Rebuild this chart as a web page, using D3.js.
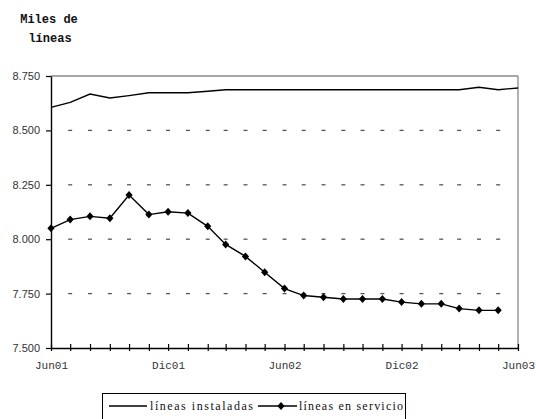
<!DOCTYPE html>
<html>
  <head>
    <meta charset="utf-8">
    <title>Líneas instaladas y en servicio</title>
    <script src="https://d3js.org/d3.v7.min.js"></script>
    <style>
      body { margin: 0; background: #fff; }
    </style>
  </head>
  <body>
    <script>
      // Data (miles de líneas), monthly from Jun01
      var startMonth = new Date(2001, 5, 1);
      var installed = [8606, 8629, 8667, 8649, 8660, 8673, 8673, 8673, 8680,
                       8687, 8687, 8687, 8687, 8687, 8687, 8687, 8687, 8687,
                       8687, 8687, 8687, 8687, 8698, 8687, 8695];
      var inService = [8050, 8090, 8105, 8096, 8203, 8113, 8126, 8120, 8059,
                       7976, 7921, 7848, 7773, 7741, 7733, 7725, 7725, 7725,
                       7711, 7703, 7703, 7681, 7673, 7673];
      var xTickLabels = ["Jun01", "Dic01", "Jun02", "Dic02", "Jun03"];
      var yTicks = [7500, 7750, 8000, 8250, 8500, 8750];
      var gridValues = [7750, 8000, 8250, 8500];
      var seriesNames = ["líneas instaladas", "líneas en servicio"];

      var margin = {top: 76, right: 18, bottom: 71, left: 51};
      var width = 536 - margin.left - margin.right;
      var height = 419 - margin.top - margin.bottom;

      var monthOf = function(i) { return d3.timeMonth.offset(startMonth, i); };
      var endMonth = monthOf(24);

      var svgRoot = d3.select("body")
                  .append("svg")
                  .attr("width", 536)
                  .attr("height", 419);
      var svg = svgRoot.append("g")
                  .attr("transform", "translate(" + margin.left + "," + margin.top + ")");

      var x = d3.scaleTime().domain([startMonth, endMonth]).range([0, width]);
      var y = d3.scaleLinear().domain([7500, 8750]).range([height, 0]);

      var loc = d3.formatLocale({decimal: ",", thousands: ".", grouping: [3], currency: ["", ""]});
      var fmt = loc.format(",d");

      // dashed gridlines: short dashes at each month
      var allMonths = d3.range(1, 24).map(monthOf);
      gridValues.forEach(function(v) {
        svg.selectAll(null)
           .data(allMonths)
           .enter()
           .append("line")
           .attr("x1", function(d) { return x(d) - 2; })
           .attr("x2", function(d) { return x(d) + 2; })
           .attr("y1", y(v))
           .attr("y2", y(v))
           .attr("stroke", "#555")
           .attr("stroke-width", 1.3);
      });

      // top and right frame
      svg.append("line")
         .attr("x1", 0).attr("x2", width)
         .attr("y1", y(8750)).attr("y2", y(8750))
         .attr("stroke", "#888").attr("stroke-width", 1.3);
      svg.append("line")
         .attr("x1", width).attr("x2", width)
         .attr("y1", y(8750)).attr("y2", height)
         .attr("stroke", "#888").attr("stroke-width", 1.3);

      // x axis
      var xAxis = svg.append("g")
         .attr("transform", "translate(0," + height + ")")
         .call(d3.axisBottom(x)
                 .tickValues(d3.range(0, 25).map(monthOf))
                 .tickSizeOuter(0)
                 .tickFormat(function(d, i) { return i % 6 === 0 ? xTickLabels[i / 6] : ""; }));
      xAxis.select(".domain").attr("stroke", "#000").attr("stroke-width", 1.4);
      xAxis.selectAll(".tick line").attr("y1", -4).attr("y2", 3).attr("stroke-width", 1.2);
      xAxis.selectAll(".tick text")
           .attr("y", 13)
           .style("font-family", "'Liberation Mono', monospace")
           .style("font-size", "11px")
           .attr("fill", "#333");

      // y axis
      var yAxis = svg.append("g")
         .call(d3.axisLeft(y).tickValues(yTicks).tickSize(5).tickSizeOuter(0).tickPadding(6).tickFormat(fmt));
      yAxis.select(".domain").attr("stroke", "#000").attr("stroke-width", 1.4);
      yAxis.selectAll(".tick line").attr("stroke-width", 1.2);
      yAxis.selectAll(".tick text")
           .style("font-family", "'Liberation Sans', Arial, sans-serif")
           .style("font-size", "11px")
           .attr("fill", "#333");

      // lines
      var line = d3.line()
                   .x(function(d, i) { return x(monthOf(i)); })
                   .y(function(d) { return y(d); });

      svg.append("path")
         .datum(installed)
         .attr("d", line)
         .attr("fill", "none")
         .attr("stroke", "#000")
         .attr("stroke-width", 1.4);

      svg.append("path")
         .datum(inService)
         .attr("d", line)
         .attr("fill", "none")
         .attr("stroke", "#000")
         .attr("stroke-width", 1.4);

      var diamond = "M0,-4L3.6,0L0,4L-3.6,0Z";
      svg.selectAll(".pt")
         .data(inService)
         .enter()
         .append("path")
         .attr("class", "pt")
         .attr("d", diamond)
         .attr("transform", function(d, i) { return "translate(" + x(monthOf(i)) + "," + y(d) + ")"; })
         .attr("fill", "#000");

      // title
      var title = svgRoot.append("text")
         .attr("text-anchor", "middle")
         .style("font-family", "'Liberation Mono', monospace")
         .style("font-weight", "bold")
         .style("font-size", "12px")
         .attr("fill", "#111");
      title.append("tspan").attr("x", 49).attr("y", 23).text("Miles de");
      title.append("tspan").attr("x", 50).attr("y", 42).text("líneas");

      // legend
      var lg = svgRoot.append("g");
      lg.append("rect")
        .attr("x", 102.5).attr("y", 393.5)
        .attr("width", 303).attr("height", 30)
        .attr("fill", "none").attr("stroke", "#000").attr("stroke-width", 1);
      lg.append("line")
        .attr("x1", 109).attr("x2", 147).attr("y1", 406).attr("y2", 406)
        .attr("stroke", "#000").attr("stroke-width", 1.4);
      lg.append("line")
        .attr("x1", 258).attr("x2", 297).attr("y1", 406).attr("y2", 406)
        .attr("stroke", "#000").attr("stroke-width", 1.4);
      lg.append("path")
        .attr("d", diamond)
        .attr("transform", "translate(281,406)")
        .attr("fill", "#000");
      lg.selectAll(".lt")
        .data(seriesNames)
        .enter()
        .append("text")
        .attr("class", "lt")
        .attr("x", function(d, i) { return i === 0 ? 150 : 299; })
        .attr("y", 410)
        .attr("textLength", function(d, i) { return i === 0 ? 103 : 104; })
        .style("font-family", "'Liberation Serif', serif")
        .style("font-size", "12px")
        .attr("fill", "#111")
        .text(function(d) { return d; });
    </script>
  </body>
</html>
